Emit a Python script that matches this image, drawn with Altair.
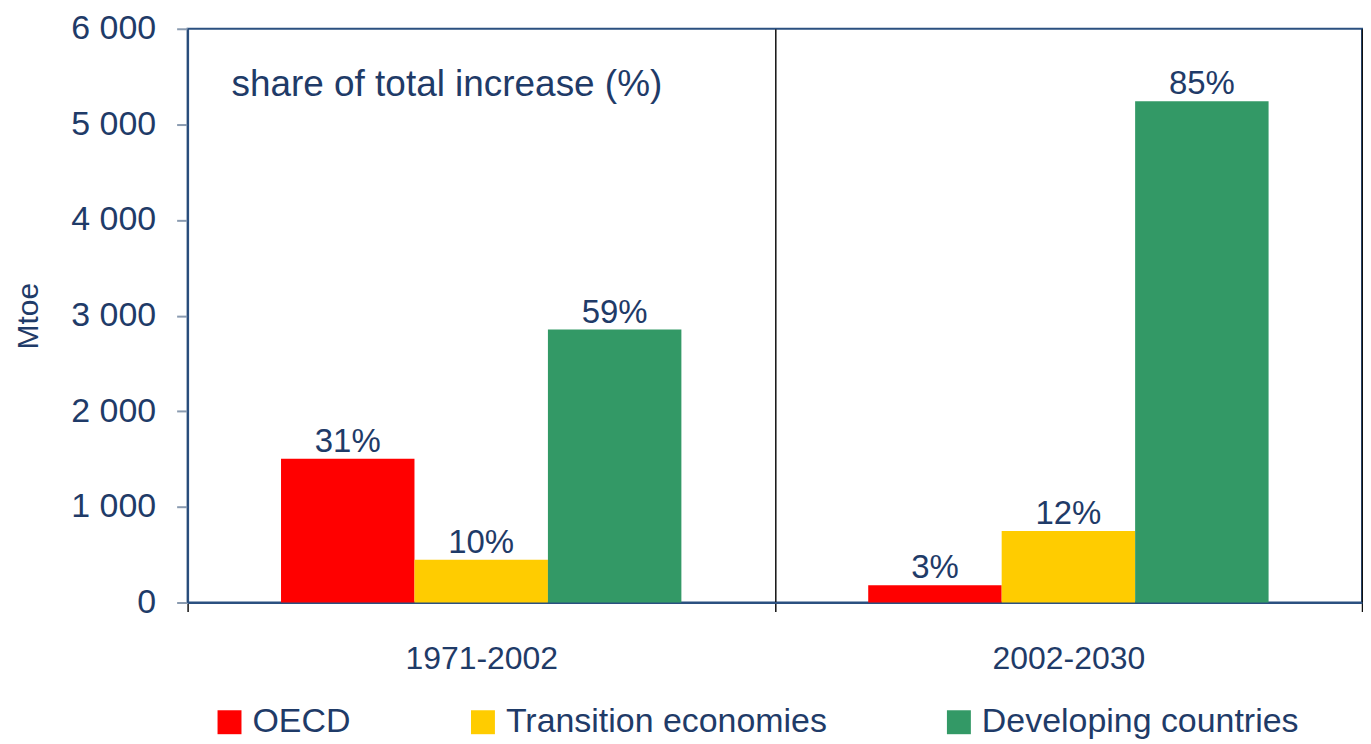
import altair as alt
import pandas as pd

periods = ["1971-2002", "2002-2030"]
series = ["OECD", "Transition economies", "Developing countries"]
colors = ["#FF0000", "#FFCC00", "#339966"]
oecd = [1502, 180]
transition = [446, 747]
developing = [2855, 5242]
share_labels = {
    "OECD": ["31%", "3%"],
    "Transition economies": ["10%", "12%"],
    "Developing countries": ["59%", "85%"],
}
y_ticks = [0, 1000, 2000, 3000, 4000, 5000, 6000]
annotation = "share of total increase (%)"
y_title = "Mtoe"

rows = []
for s, vals in zip(series, [oecd, transition, developing]):
    for i, p in enumerate(periods):
        rows.append({"period": p, "series": s, "value": vals[i], "label": share_labels[s][i]})
df = pd.DataFrame(rows)

NAVY = "#1F3B68"
FONT = "Liberation Sans"
W, H = 1177, 575

x_enc = alt.X(
    "period:N",
    sort=periods,
    scale=alt.Scale(paddingInner=0, paddingOuter=0),
    axis=alt.Axis(
        title=None,
        labelFontSize=32,
        labelColor=NAVY,
        labelFont=FONT,
        labelPadding=32,
        labelAngle=0,
        tickBand="extent",
        ticks=True,
        tickSize=9,
        tickColor="#111111",
        tickWidth=1.5,
        grid=True,
        gridColor="#111111",
        gridWidth=1.5,
        domainColor="#2B5080",
        domainWidth=2,
    ),
)
xo_enc = alt.XOffset(
    "series:N", sort=series, scale=alt.Scale(paddingInner=0, paddingOuter=0.7)
)
y_enc = alt.Y(
    "value:Q",
    scale=alt.Scale(domain=[0, 6000], nice=False),
    axis=alt.Axis(
        title=y_title,
        titleFontSize=30,
        titleFontWeight="normal",
        titleColor=NAVY,
        titleFont=FONT,
        titlePadding=27,
        values=y_ticks,
        labelExpr="replace(format(datum.value, ','), ',', ' ')",
        labelFontSize=34,
        labelColor=NAVY,
        labelFont=FONT,
        labelPadding=21,
        tickSize=11,
        tickColor="#8A9BB0",
        tickWidth=2,
        domainColor="#2B5080",
        domainWidth=2,
        grid=False,
    ),
)

base = alt.Chart(df)

bars = base.mark_bar().encode(
    x=x_enc,
    xOffset=xo_enc,
    y=y_enc,
    color=alt.Color(
        "series:N",
        sort=series,
        scale=alt.Scale(domain=series, range=colors),
        legend=alt.Legend(
            title=None,
            orient="none",
            direction="horizontal",
            legendX=25,
            legendY=678,
            symbolType="square",
            symbolSize=576,
            symbolStrokeWidth=0,
            labelFontSize=34,
            labelColor=NAVY,
            labelFont=FONT,
            labelOffset=6,
            columnPadding=115,
            labelLimit=500,
        ),
    ),
)

texts = base.mark_text(
    baseline="alphabetic", dy=-7, fontSize=33, color=NAVY, font=FONT
).encode(x=x_enc, xOffset=xo_enc, y=y_enc, text="label:N")

note = alt.Chart(pd.DataFrame({"t": [annotation]})).mark_text(
    align="left", baseline="alphabetic", fontSize=37, color=NAVY, font=FONT
).encode(x=alt.value(44), y=alt.value(67), text="t:N")

chart = (
    alt.layer(bars, texts, note)
    .properties(width=W, height=H, padding={"left": 5, "top": 3, "right": 0, "bottom": 0})
    .configure_view(stroke="#2B5080", strokeWidth=2)
)

chart.save("out.html", embed_options={"renderer": "svg", "actions": False})
